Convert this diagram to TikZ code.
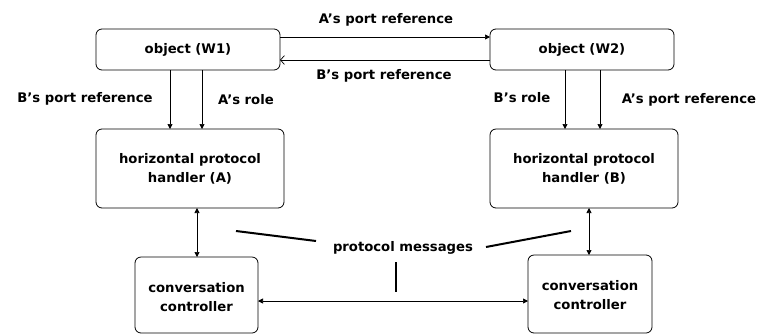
\documentclass[tikz,border=0pt]{standalone}
\usepackage{fontspec}
\setmainfont{DejaVu Sans}
\usetikzlibrary{arrows.meta}
\begin{document}
\begin{tikzpicture}[x=1bp,y=-1bp,
  every node/.style={font=\bfseries\fontsize{13.2bp}{19bp}\selectfont, inner sep=0pt},
  box/.style={draw, rounded corners=6bp, line width=0.8bp},
  lbl/.style={align=center},
  arr/.style={line width=0.7bp, -{Triangle[length=5bp,width=5bp]}},
  darr/.style={line width=0.7bp, {Triangle[length=5bp,width=5bp]}-{Triangle[length=5bp,width=5bp]}},
  oarr/.style={line width=0.7bp, -{Straight Barb[length=4bp,width=9bp]}},
  thick line/.style={line width=2bp}]
\useasboundingbox (0,0) rectangle (765,334);
% boxes
\draw[box] (96,29) rectangle (280,70);
\node (w1) at (188,49.5) {object (W1)};
\coordinate (w1r1) at (280,37); \coordinate (w1r2) at (280,60);
\draw[box] (490,29) rectangle (674,70);
\node (w2) at (582,49.5) {object (W2)};
\coordinate (w2l1) at (490,37); \coordinate (w2l2) at (490,60);
\draw[box] (96,129) rectangle (284,208);
\node[lbl] (ha) at (190,169) {horizontal protocol\\handler (A)};
\draw[box] (490,129) rectangle (678,208);
\node[lbl] (hb) at (584,169) {horizontal protocol\\handler (B)};
\draw[box] (135,257) rectangle (258,333);
\node[lbl] (ca) at (196.5,297) {conversation\\controller};
\draw[box] (528,255) rectangle (652,333);
\node[lbl] (cb) at (590,295) {conversation\\controller};
% coordinates for connectors
\coordinate (w1b1) at (170,70); \coordinate (ha1) at (170,129);
\coordinate (w1b2) at (202,70); \coordinate (ha2) at (202,129);
\coordinate (w2b1) at (565,70); \coordinate (hb1) at (565,129);
\coordinate (w2b2) at (600,70); \coordinate (hb2) at (600,129);
\coordinate (hab) at (197,208); \coordinate (cat) at (197,257);
\coordinate (hbb) at (589,208); \coordinate (cbt) at (589,255);
\coordinate (car) at (258,301); \coordinate (cbl) at (528,301);
% connectors
\draw[arr] (w1r1) -- (w2l1);
\draw[oarr] (w2l2) -- (w1r2);
\draw[arr] (w1b1) -- (ha1);
\draw[arr] (w1b2) -- (ha2);
\draw[arr] (w2b1) -- (hb1);
\draw[arr] (w2b2) -- (hb2);
\draw[darr] (hab) -- (cat);
\draw[darr] (hbb) -- (cbt);
\draw[darr] (car) -- (cbl);
% labels
\node (l1) at (386,20) {A's port reference};
\node (l2) at (384,76) {B's port reference};
\node (l3) at (85,99) {B's port reference};
\node (l4) at (246,100) {A's role};
\node (l5) at (522,98) {B's role};
\node (l6) at (689,100) {A's port reference};
\node (pm) at (403,248) {protocol messages};
% pointer lines
\coordinate (p1a) at (236,231); \coordinate (p1b) at (316,241);
\coordinate (p2a) at (486,247); \coordinate (p2b) at (571,231);
\coordinate (p3a) at (396,262); \coordinate (p3b) at (396,292);
\draw[thick line] (p1a) -- (p1b);
\draw[thick line] (p2a) -- (p2b);
\draw[thick line] (p3a) -- (p3b);
\end{tikzpicture}
\end{document}
